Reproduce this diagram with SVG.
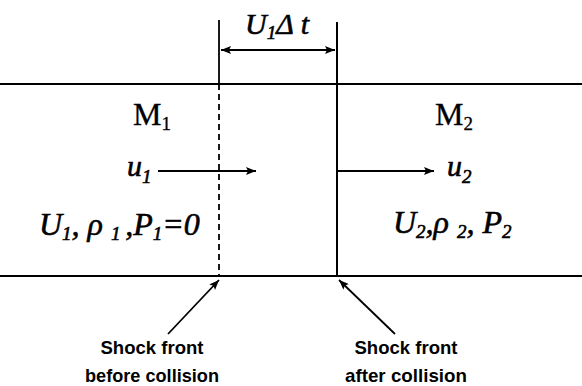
<svg xmlns="http://www.w3.org/2000/svg" width="582" height="386" viewBox="0 0 582 386">
<defs>
<marker id="ah" viewBox="0 0 10 8" refX="10" refY="4" markerWidth="11" markerHeight="8" markerUnits="userSpaceOnUse" orient="auto-start-reverse">
<path d="M0,0 L10,4 L0,8 L2,4 Z" fill="#000"/>
</marker>
</defs>
<style>
.ln{stroke:#000;stroke-width:2;fill:none}
.thin{stroke:#000;stroke-width:1.8;fill:none}
.math{font-family:"Liberation Serif","Times New Roman",serif;font-style:italic;font-size:30px;fill:#000;stroke:#000;stroke-width:0.6}
.big{font-size:32px}
.mlab{font-family:"Liberation Serif","Times New Roman",serif;font-size:32px;fill:#000;stroke:#000;stroke-width:0.3}
.sub{font-size:19px}
.cap{font-family:"Liberation Sans",Arial,sans-serif;font-weight:bold;font-size:19px;fill:#000;text-anchor:middle}
</style>
<rect width="582" height="386" fill="#fff"/>
<g id="tube">
<line class="ln" x1="0" y1="84" x2="582" y2="84"/>
<line class="ln" x1="0" y1="276" x2="582" y2="276"/>
</g>
<g id="front-before">
<line class="thin" x1="219" y1="20" x2="219" y2="84"/>
<line class="thin" x1="219" y1="84" x2="219" y2="276" stroke-dasharray="6,4"/>
</g>
<g id="front-after">
<line class="ln" x1="337" y1="22" x2="337" y2="276"/>
</g>
<g id="dimension">
<text class="math" x="245" y="34">U<tspan class="sub" dy="5">1</tspan><tspan dy="-5">Δ t</tspan></text>
</g>
<g id="M1">
<text class="mlab" x="133" y="125">M<tspan class="sub" dy="5">1</tspan></text>
<text class="math" x="127" y="176">u<tspan class="sub" dy="7">1</tspan></text>
<text class="math big" x="39" y="235">U<tspan class="sub" dy="5">1</tspan><tspan dy="-5">, ρ </tspan><tspan class="sub" dy="5">1 </tspan><tspan dy="-5">,P</tspan><tspan class="sub" dy="5">1</tspan><tspan dy="-5">=0</tspan></text>
</g>
<g id="M2">
<text class="mlab" x="435" y="125">M<tspan class="sub" dy="5">2</tspan></text>
<text class="math" x="447" y="176">u<tspan class="sub" dy="7">2</tspan></text>
<text class="math big" x="393" y="233">U<tspan class="sub" dy="5">2</tspan><tspan dy="-5">,ρ </tspan><tspan class="sub" dy="5">2</tspan><tspan dy="-5">, P</tspan><tspan class="sub" dy="5">2</tspan></text>
</g>
<g id="label-before">
<text class="cap" x="152" y="354" textLength="103" lengthAdjust="spacingAndGlyphs">Shock front</text>
<text class="cap" x="152" y="382" textLength="134" lengthAdjust="spacingAndGlyphs">before collision</text>
</g>
<g id="label-after">
<text class="cap" x="406" y="354" textLength="103" lengthAdjust="spacingAndGlyphs">Shock front</text>
<text class="cap" x="406" y="382" textLength="122" lengthAdjust="spacingAndGlyphs">after collision</text>
</g>
<g id="connectors">
<line class="thin" x1="221" y1="50" x2="335" y2="50" marker-start="url(#ah)" marker-end="url(#ah)"/>
<line class="thin" x1="158" y1="171" x2="256" y2="171" marker-end="url(#ah)"/>
<line class="thin" x1="337" y1="171" x2="434" y2="171" marker-end="url(#ah)"/>
<line class="thin" x1="168" y1="334" x2="219" y2="280" marker-end="url(#ah)"/>
<line class="thin" x1="395" y1="334" x2="339" y2="280" marker-end="url(#ah)"/>
</g>
</svg>
